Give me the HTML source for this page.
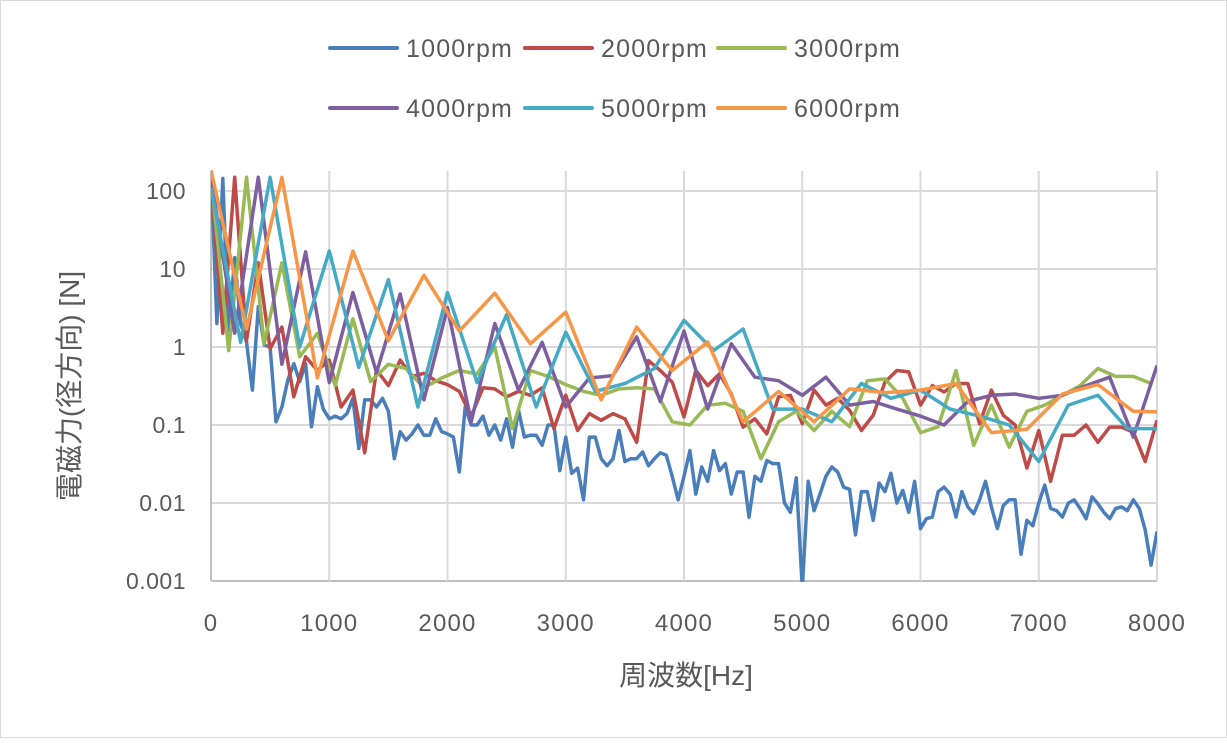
<!DOCTYPE html>
<html><head><meta charset="utf-8"><style>
html,body{margin:0;padding:0;background:#fff;}
svg text{font-family:"Liberation Sans","Noto Sans CJK JP",sans-serif;fill:#595959;}
</style></head><body>
<svg id="chart" width="1227" height="738" viewBox="0 0 1227 738" xmlns="http://www.w3.org/2000/svg">
<rect x="0.5" y="0.5" width="1226" height="737" fill="#fff" stroke="#d9d9d9"/>
<defs><clipPath id="pc"><rect x="211" y="150" width="946" height="432"/></clipPath></defs>
<g id="grid"></g>
<g id="series" clip-path="url(#pc)"></g>
<g id="axes"></g>
<g id="legend"></g>
<text x="686" y="685" font-size="28" text-anchor="middle">周波数[Hz]</text>
<text x="0" y="0" font-size="28" text-anchor="middle" transform="translate(79,386) rotate(-90)">電磁力(径方向) [N]</text>
</svg>
<script>
const xTicks=[0,1000,2000,3000,4000,5000,6000,7000,8000];
const yTicks=[100,10,1,0.1,0.01,0.001];
const yTickLabels=["100","10","1","0.1","0.01","0.001"];
const seriesNames=["1000rpm","2000rpm","3000rpm","4000rpm","5000rpm","6000rpm"];
const seriesSteps=[50,100,150,200,250,300];
const s1000=[170,2.0,145,1.5,14,2.0,1.17,0.28,3.3,1.06,1.0,0.11,0.17,0.38,0.61,0.36,0.61,0.095,0.31,0.16,0.12,0.13,0.12,0.14,0.22,0.05,0.21,0.21,0.17,0.22,0.15,0.037,0.082,0.064,0.077,0.1,0.074,0.074,0.12,0.082,0.077,0.07,0.025,0.17,0.1,0.1,0.13,0.074,0.1,0.064,0.12,0.052,0.155,0.07,0.074,0.074,0.055,0.1,0.1,0.026,0.07,0.024,
0.028,0.011,0.07,0.07,0.037,0.03,0.037,0.085,0.034,0.037,0.037,0.045,0.03,0.037,0.044,0.041,0.022,0.011,0.022,0.047,0.013,0.029,0.019,0.047,0.026,0.032,0.013,0.025,0.025,0.0066,0.022,0.019,0.035,0.032,0.032,0.010,0.0076,0.021,0.0008,0.019,0.008,0.013,0.022,0.029,0.025,0.016,0.015,0.0039,0.014,0.014,0.006,0.018,0.014,0.024,0.010,0.0145,0.0076,0.019,0.0047,0.0063,0.0066,0.014,0.016,0.013,0.0066,0.014,0.0089,0.0073,0.011,0.019,0.0089,0.0047,0.0093,0.011,0.011,0.0022,0.006,0.0051,0.010,0.017,0.0085,0.008,0.0066,0.010,0.011,0.0085,0.0063,0.012,0.0098,0.0076,0.0063,0.0085,0.0089,0.008,0.011,0.0085,0.0045,0.0016,0.0043];
const s2000=[150,1.5,150,1.2,12,0.95,1.8,0.23,0.75,0.5,0.68,0.17,0.28,0.044,0.51,0.32,0.68,0.42,0.46,0.37,0.33,0.27,0.13,0.3,0.29,0.23,0.27,0.24,0.3,0.09,0.24,
0.085,0.14,0.115,0.14,0.12,0.06,0.67,0.5,0.355,0.127,0.5,0.32,0.455,0.25,0.094,0.12,0.077,0.23,0.24,0.104,0.28,0.18,0.22,0.154,0.085,0.133,0.355,0.5,0.48,0.18,0.32,0.265,0.34,0.34,0.104,0.28,0.133,0.1,0.028,0.085,0.019,0.074,0.074,0.1,0.06,0.094,0.094,0.081,0.034,0.115];
const s3000=[150,0.9,150,1.1,12,0.75,1.5,0.32,2.3,0.36,0.6,0.53,0.3,0.4,0.5,0.45,1.0,0.09,0.5,0.42,0.33,0.27,0.24,0.29,0.3,0.29,0.11,0.1,0.18,0.19,0.15,0.037,0.11,0.15,0.085,0.15,0.095,0.37,0.39,0.22,0.08,0.095,0.5,0.055,0.18,0.052,0.15,0.18,0.24,0.32,0.53,0.42,0.42,0.34];
const s4000=[150,1.5,150,0.6,16.6,0.35,5,0.47,4.8,0.21,3.2,0.11,2,0.28,1.15,0.17,0.4,0.43,1.35,0.2,1.6,0.16,1.1,0.41,0.37,0.24,0.41,0.18,0.2,0.16,0.13,0.1,0.2,0.24,0.25,0.22,0.24,0.32,0.41,0.07,0.58];
const s5000=[110,1.15,150,1.0,17,0.55,7.3,0.17,5,0.35,2.6,0.17,1.55,0.27,0.34,0.53,2.2,0.9,1.7,0.16,0.16,0.11,0.34,0.22,0.28,0.16,0.13,0.1,0.034,0.18,0.24,0.09,0.09];
const s6000=[185,1.7,150,0.4,17,1.2,8.3,1.6,4.9,1.1,2.8,0.21,1.8,0.5,1.16,0.11,0.27,0.11,0.29,0.26,0.28,0.34,0.08,0.088,0.25,0.33,0.15,0.146];
const seriesValues=[s1000,s2000,s3000,s4000,s5000,s6000];
const colors=["#4a7ebb","#be4b48","#98b954","#7d5fa0","#46aac5","#f79646"];
const X0=211,X1=1157,Y100=191,DEC=78;
const xs=v=>X0+(v/8000)*(X1-X0);
const ys=v=>Y100+(2-Math.log10(v))*DEC;
const NS="http://www.w3.org/2000/svg";
const mk=(t,a,p)=>{const e=document.createElementNS(NS,t);for(const k in a)e.setAttribute(k,a[k]);p.appendChild(e);return e;};
const grid=document.getElementById('grid'),axes=document.getElementById('axes'),ser=document.getElementById('series'),leg=document.getElementById('legend');
yTicks.forEach((t,i)=>{
  const l=mk('line',{x1:X0,x2:X1,y1:ys(t),y2:ys(t),stroke:t===0.001?'#bfbfbf':'#d9d9d9','stroke-width':2},grid);
  
  
  const tx=mk('text',{x:186,y:ys(t)+8,'font-size':23,'letter-spacing':0.5,'text-anchor':'end'},axes);
  tx.textContent=yTickLabels[i];
  
  
});
xTicks.forEach(t=>{
  const l=mk('line',{x1:xs(t),x2:xs(t),y1:ys(100)-20,y2:ys(0.001),stroke:t===0?'#bfbfbf':'#d9d9d9','stroke-width':2},grid);
  
  
  const tx=mk('text',{x:xs(t),y:631,'font-size':24,'letter-spacing':1.2,'text-anchor':'middle'},axes);
  tx.textContent=String(t);
  
  
});
seriesValues.forEach((vals,si)=>{
  const pts=vals.map((v,i)=>xs(i*seriesSteps[si]).toFixed(1)+','+ys(v).toFixed(1)).join(' ');
  const pl=mk('polyline',{points:pts,fill:'none',stroke:colors[si],'stroke-width':3.5,'stroke-linejoin':'round'},ser);
  
  
});
const legX=[330,525,718];
seriesNames.forEach((n,i)=>{
  const x=legX[i%3],y=i<3?48:108;
  const g=mk('g',{},leg);
  
  
  mk('line',{x1:x,x2:x+67,y1:y,y2:y,stroke:colors[i],'stroke-width':4,'stroke-linecap':'round'},g);
  const t=mk('text',{x:x+76,y:y+9,'font-size':25,'letter-spacing':1.2},g);
  t.textContent=n;
});
</script>
</body></html>
